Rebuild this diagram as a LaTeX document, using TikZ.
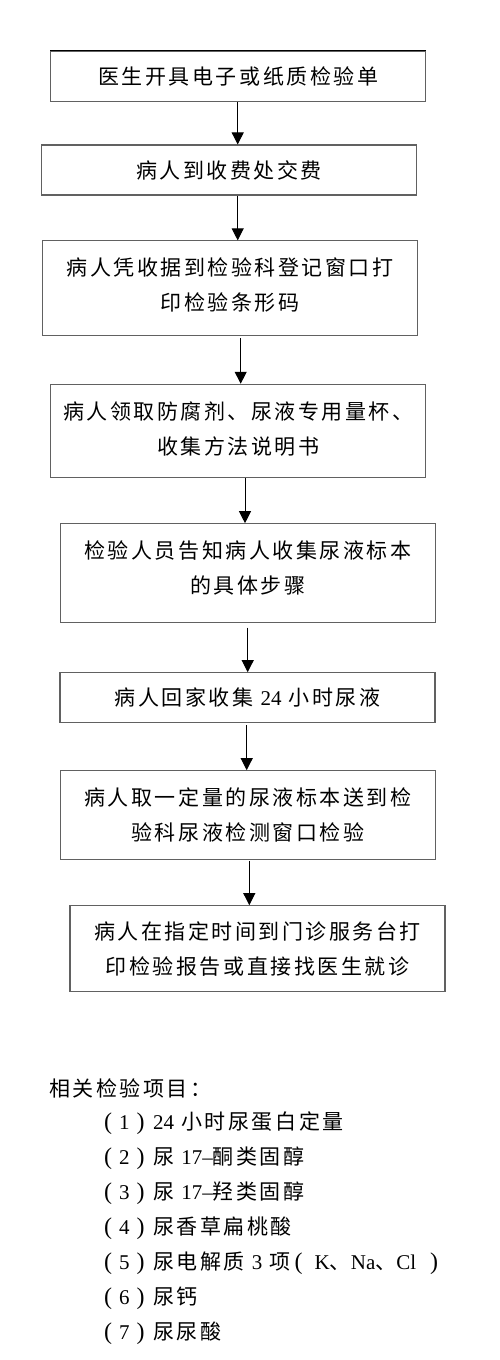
\documentclass[tikz,border=0pt]{standalone}
\usepackage{fontspec}
\setmainfont{Liberation Serif}
\newfontfamily\cjk[LetterSpace=12]{Noto Sans CJK SC}
\newcommand{\lat}[1]{{\rmfamily #1}}
\newcommand{\lpar}{{\rmfamily\fontsize{24}{24}\selectfont (}}
\newcommand{\rpar}{{\rmfamily\fontsize{24}{24}\selectfont )}}
\newcommand{\dn}[1]{\rule[-#1]{0pt}{#1}}
\newcommand{\itm}[1]{\makebox[50pt][l]{\kern1pt\lpar\kern7pt\lat{#1}\kern7pt\rpar}}
\usetikzlibrary{arrows.meta}
\tikzset{
  box/.style={draw=black!62, line width=1.1pt, align=center, inner sep=0pt,
    font=\cjk\fontsize{21}{35}\selectfont, minimum width=375pt},
  arr/.style={line width=1pt, -{Triangle[length=12pt,width=12pt]}},
  listtext/.style={anchor=west, inner sep=0pt, font=\cjk\fontsize{21}{35}\selectfont}
}
\begin{document}
\begin{tikzpicture}[x=1pt,y=-1pt]
\useasboundingbox (0,0) rectangle (500,1360);
\node[box, minimum height=50.5pt] (b1) at (238.25,76.25) {医生开具电子或纸质检验单};
\draw[line width=1.6pt] (b1.north west) -- (b1.north east);
\node[box, minimum height=50pt] (b2) at (229,170) {病人到收费处交费};
\node[box, minimum height=95pt] (b3) at (230,288.4) {病人凭收据到检验科登记窗口打\\印检验条形码\dn{8pt}};
\node[box, minimum height=93.4pt] (b4) at (238.2,431) {病人领取防腐剂、尿液专用量杯、\\收集方法说明书\dn{5pt}};
\node[box, minimum height=98.3pt] (b5) at (247.8,572.9) {检验人员告知病人收集尿液标本\\的具体步骤\dn{12pt}};
\node[box, minimum height=50pt] (b6) at (247.5,697.7) {病人回家收集 \lat{24} 小时尿液};
\node[box, minimum height=88.6pt] (b7) at (247.8,815) {病人取一定量的尿液标本送到检\\验科尿液检测窗口检验};
\node[box, minimum height=86pt] (b8) at (257.5,948.7) {病人在指定时间到门诊服务台打\\印检验报告或直接找医生就诊};
\coordinate (x1) at (237.7,0);
\coordinate (x2) at (237.7,0);
\coordinate (x3) at (240.7,0);
\coordinate (x4) at (245,0);
\coordinate (x5) at (247.7,0);
\coordinate (x6) at (246.7,0);
\coordinate (x7) at (249.3,0);
\draw[arr] (b1.south -| x1) -- (b2.north -| x1);
\draw[arr] (b2.south -| x2) -- (b3.north -| x2);
\draw[arr] ([yshift=-2pt]b3.south -| x3) -- (b4.north -| x3);
\draw[arr] (b4.south -| x4) -- (b5.north -| x4);
\draw[arr] ([yshift=-5pt]b5.south -| x5) -- (b6.north -| x5);
\draw[arr] ([yshift=-2pt]b6.south -| x6) -- (b7.north -| x6);
\draw[arr] ([yshift=-1pt]b7.south -| x7) -- (b8.north -| x7);
\node[listtext] (h) at (49,1088) {相关检验项目：};
\node[listtext] (i1) at (103,1123.3) {\itm{1}\lat{24} 小时尿蛋白定量};
\node[listtext] (i2) at (103,1158.3) {\itm{2}尿 \lat{17–}酮类固醇};
\node[listtext] (i3) at (103,1193.3) {\itm{3}尿 \lat{17–}羟类固醇};
\node[listtext] (i4) at (103,1228.3) {\itm{4}尿香草扁桃酸};
\node[listtext] (i5) at (103,1263.3) {\itm{5}尿电解质 \lat{3} 项\kern4pt\lpar\kern12pt\lat{K}、\lat{Na}、\lat{Cl}\kern14pt\rpar};
\node[listtext] (i6) at (103,1298.3) {\itm{6}尿钙};
\node[listtext] (i7) at (103,1333.3) {\itm{7}尿尿酸};
\end{tikzpicture}
\end{document}
